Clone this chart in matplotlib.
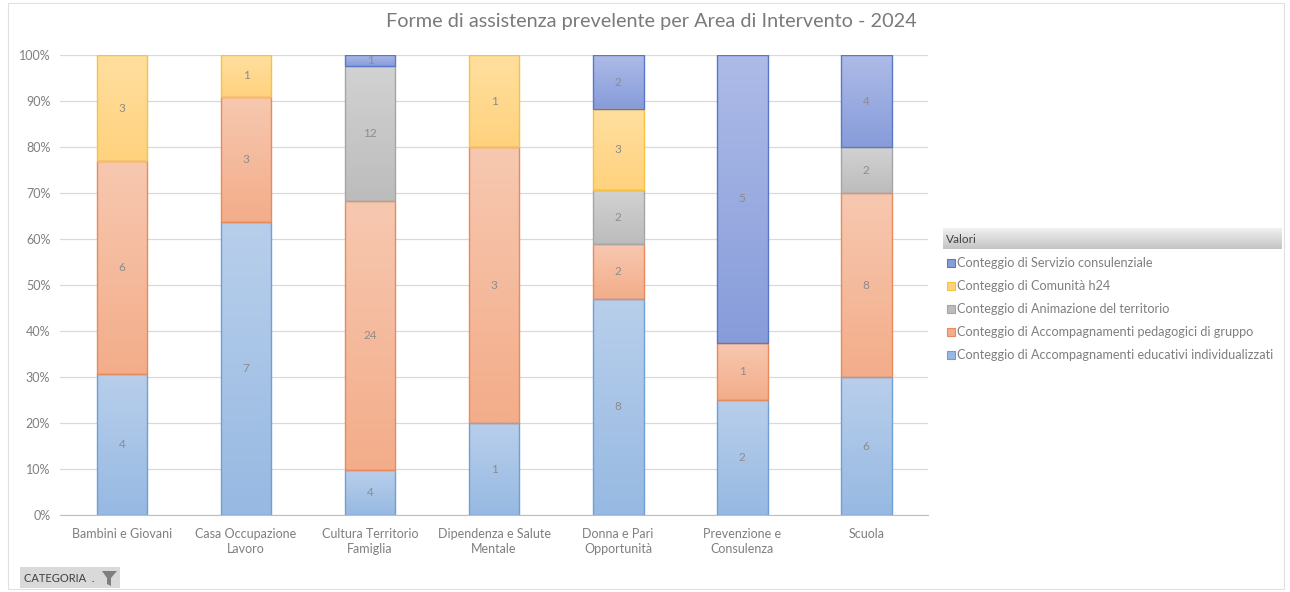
import numpy as np
import matplotlib.pyplot as plt
import matplotlib.patches as mpatches
from matplotlib.colors import LinearSegmentedColormap

plt.rcParams['font.family'] = ['Lato', 'DejaVu Sans']

#------dati
categorie = ['Bambini e Giovani', 'Casa Occupazione\nLavoro', 'Cultura Territorio\nFamiglia',
             'Dipendenza e Salute\nMentale', 'Donna e Pari\nOpportunità', 'Prevenzione e\nConsulenza', 'Scuola']
individualizzati = [4, 7, 4, 1, 8, 2, 6]
gruppo = [6, 3, 24, 3, 2, 1, 8]
animazione = [0, 0, 12, 0, 2, 0, 2]
comunita_h24 = [3, 1, 0, 1, 3, 0, 0]
consulenziale = [0, 0, 1, 0, 2, 5, 4]

serie = ['Conteggio di Accompagnamenti educativi individualizzati',
         'Conteggio di Accompagnamenti pedagogici di gruppo',
         'Conteggio di Animazione del territorio',
         'Conteggio di Comunità h24',
         'Conteggio di Servizio consulenziale']
valori = [individualizzati, gruppo, animazione, comunita_h24, consulenziale]

#------stile (top chiaro, bottom scuro, bordo)
stili = [('#b8cfeb', '#97b9e2', '#6f9fd8'),
         ('#f7c8b0', '#f3ad8a', '#e98a5c'),
         ('#d2d2d2', '#bcbcbc', '#a5a5a5'),
         ('#ffdf9f', '#ffd27e', '#f5c242'),
         ('#adbbe7', '#879cda', '#5a78c8')]

dati = np.array(valori, dtype=float)
totali = dati.sum(axis=0)
perc = dati / totali * 100

fig = plt.figure(figsize=(12.9, 5.92), dpi=100)
ax = fig.add_axes([0.0465, 0.130, 0.673, 0.777])

x = np.arange(len(categorie))
base = np.zeros(len(categorie))
for i, nome in enumerate(serie):
    top_c, bot_c, edge_c = stili[i]
    bars = ax.bar(x, perc[i], 0.41, bottom=base, facecolor='none', edgecolor=edge_c,
                  linewidth=1.0, zorder=3)
    cmap = LinearSegmentedColormap.from_list('g%d' % i, [bot_c, top_c])
    for j, p in enumerate(bars):
        h = p.get_height()
        if h <= 0:
            p.set_visible(False)
            continue
        x0, y0, w = p.get_x(), p.get_y(), p.get_width()
        grad = np.linspace(0, 1, 100).reshape(-1, 1)
        im = ax.imshow(grad, cmap=cmap, extent=[x0, x0 + w, y0, y0 + h], origin='lower',
                       aspect='auto', zorder=2)
        im.set_clip_path(p)
        ax.text(x0 + w / 2, y0 + h / 2, str(int(dati[i, j])), ha='center', va='center',
                fontsize=8.5, color='#8c8c8c', zorder=4)
    base += perc[i]

ax.set_xlim(-0.5, len(categorie) - 0.5)
ax.set_ylim(0, 100)
ax.set_yticks(np.arange(0, 101, 10))
ax.set_yticklabels(['%d%%' % v for v in range(0, 101, 10)])
ax.set_xticks(x)
ax.set_xticklabels(categorie, linespacing=1.35)
ax.tick_params(axis='both', length=0, labelsize=9, colors='#7f7f7f')
ax.tick_params(axis='y', pad=7)
ax.tick_params(axis='x', pad=9)
ax.grid(axis='y', color='#d9d9d9', linewidth=0.9, zorder=0)
ax.set_axisbelow(True)
for s in ['top', 'right', 'left']:
    ax.spines[s].set_visible(False)
ax.spines['bottom'].set_color('#bfbfbf')

fig.text(0.505, 0.963, 'Forme di assistenza prevelente per Area di Intervento - 2024',
         ha='center', va='center', fontsize=14.3, color='#7a7a7a')

#------legenda
H = 592.0
W = 1290.0
hax = fig.add_axes([943 / W, 1 - 249 / H, 339 / W, 21 / H])
hax.imshow(np.linspace(0, 1, 50).reshape(-1, 1),
           cmap=LinearSegmentedColormap.from_list('hd', ['#f0f0f0', '#c4c4c4']),
           aspect='auto', extent=[0, 1, 0, 1], origin='upper')
hax.set_axis_off()
hax.text(0.01, 0.45, 'Valori', ha='left', va='center', fontsize=8.5, color='#404040')

leg_y = [263, 286, 309, 332, 355]
for k, i in enumerate(range(len(serie) - 1, -1, -1)):
    py = leg_y[k]
    fig.patches.append(mpatches.Rectangle((947 / W, 1 - (py + 4) / H), 8 / W, 8 / H,
                                          transform=fig.transFigure, facecolor=stili[i][1],
                                          edgecolor=stili[i][2], linewidth=0.8))
    fig.text(957 / W, 1 - py / H, serie[i], ha='left', va='center', fontsize=9.1,
             color='#7f7f7f')

#------pulsante categoria
fig.patches.append(mpatches.Rectangle((20 / W, 1 - 588 / H), 100 / W, 21 / H,
                                      transform=fig.transFigure, facecolor='#d9d9d9',
                                      edgecolor='none'))
fig.text(24 / W, 1 - 578 / H, 'CATEGORIA  .', ha='left', va='center', fontsize=8,
         color='#404040')
fig.patches.append(mpatches.Polygon([(102 / W, 1 - 571 / H), (117 / W, 1 - 571 / H),
                                     (111 / W, 1 - 578 / H), (111 / W, 1 - 586 / H),
                                     (107 / W, 1 - 584 / H), (107 / W, 1 - 578 / H)],
                                    closed=True, transform=fig.transFigure,
                                    facecolor='#7f7f7f', edgecolor='none'))

#------bordo
fig.patches.append(mpatches.Rectangle((8 / W, 3 / H), 1276 / W, 586 / H,
                                      transform=fig.transFigure, facecolor='none',
                                      edgecolor='#e0e0e0', linewidth=0.8))

fig.savefig('out.png', dpi=100)
